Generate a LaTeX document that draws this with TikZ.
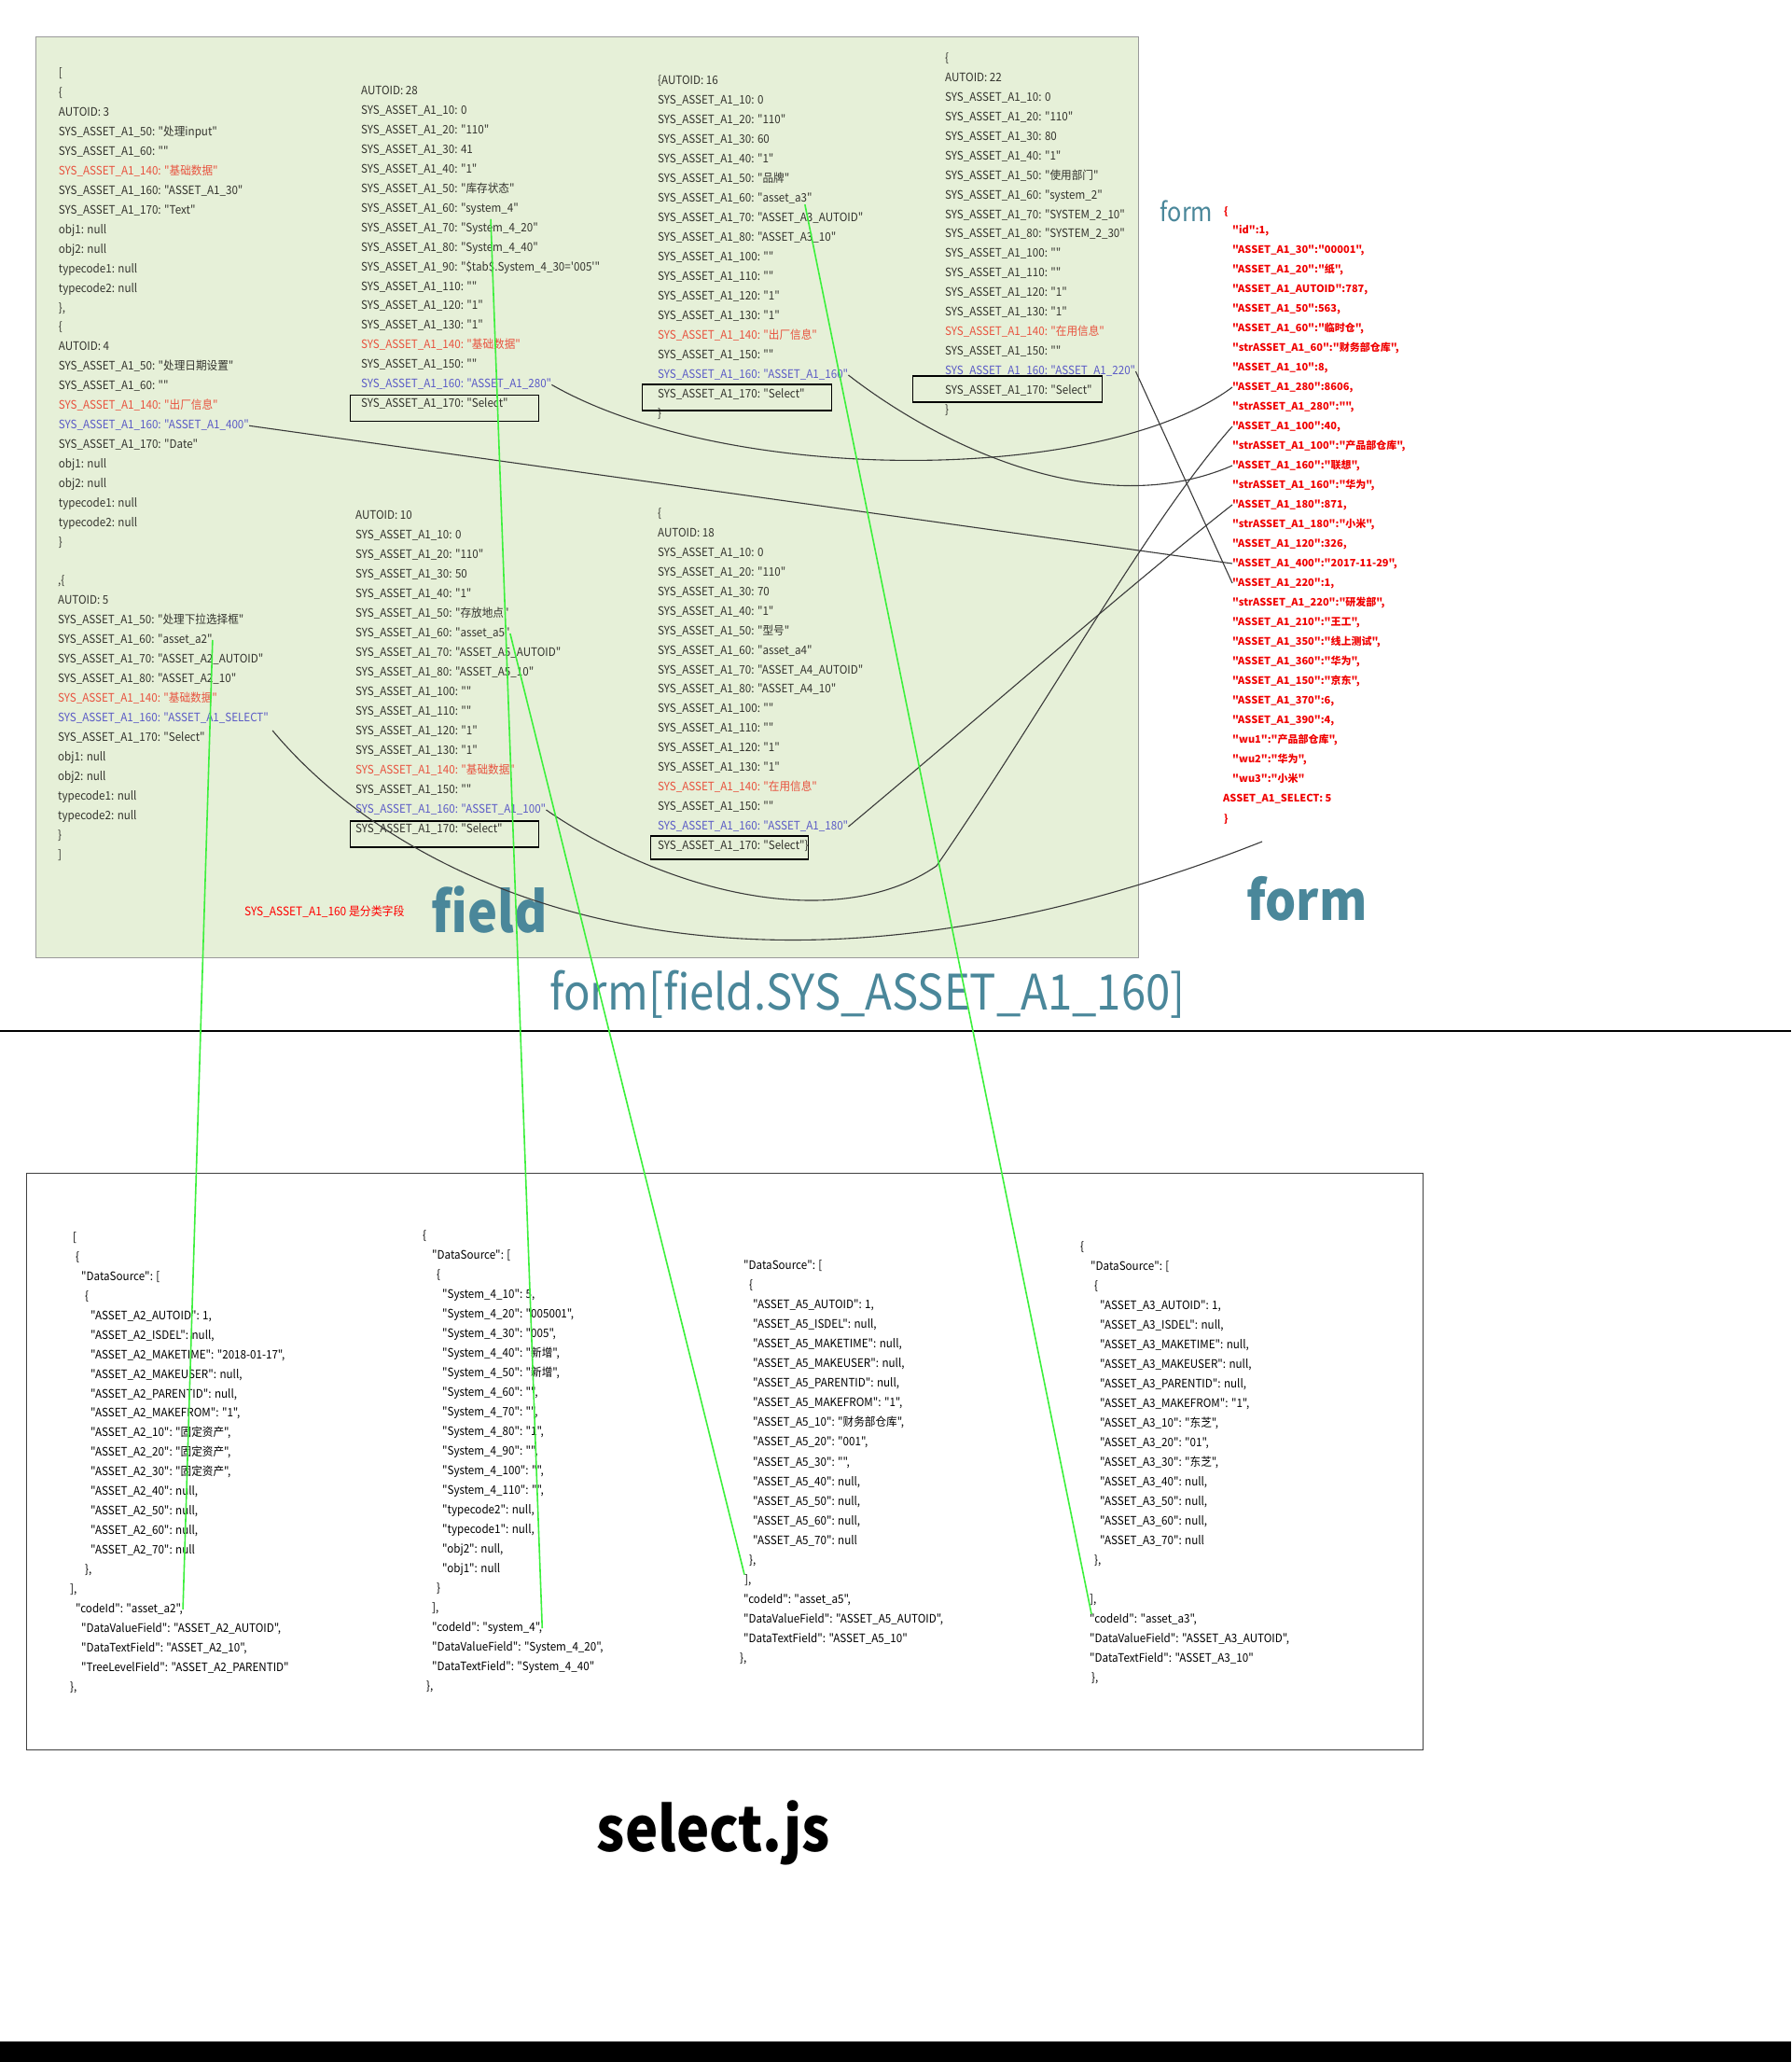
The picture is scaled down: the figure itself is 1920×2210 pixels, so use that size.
\documentclass[tikz,border=0pt]{standalone}
\usepackage{fontspec}
\setmainfont{Noto Sans CJK SC}[Ligatures=TeXOff]
\newfontfamily\colfont{Noto Sans CJK SC}[Ligatures=TeXOff,FakeStretch=0.93]
\newfontfamily\titlefont{Noto Sans CJK SC}[Ligatures=TeXOff,FakeStretch=0.9]
\usetikzlibrary{calc}
\definecolor{greenbg}{HTML}{E6F0D8}
\definecolor{gborder}{HTML}{9A9A9A}
\definecolor{coltxt}{HTML}{34342E}
\definecolor{redt}{HTML}{E8533F}
\definecolor{bluet}{HTML}{5B5BC6}
\definecolor{formred}{HTML}{F00000}
\definecolor{tealt}{HTML}{4A879A}
\definecolor{glink}{HTML}{3CF03C}
\definecolor{klink}{HTML}{3A3A3A}
\newcommand\ind[1]{\hspace*{#1pt}}
\newcommand\tblock[6]{%
  \foreach \qq [count=\ii] in {#6}{%
    \node[#2] (#1-\ii) at (#3,{#4+(\ii-1)*#5}) {\qq};
  }%
}
\begin{document}
\catcode`\_=12
\begin{tikzpicture}[x=1pt,y=-1pt,
  ctxt/.style={font=\colfont\fontsize{12.5}{15}\selectfont, text=coltxt, anchor=west, inner sep=0pt, text height=9.5pt, text depth=2.5pt},
  btxt/.style={ctxt, text=black},
  ftxt/.style={font=\fontsize{11}{14}\selectfont\bfseries, text=formred, anchor=west, inner sep=0pt, text height=8.5pt, text depth=2.5pt},
  selbox/.style={draw=black, line width=1.3pt, inner sep=0pt, anchor=west},
  title/.style={text=tealt, inner sep=0pt},
  klinkst/.style={draw=klink, line width=1.1pt},
  glinkst/.style={draw=glink, line width=1.6pt}]
\fill[white] (0,0) rectangle (1920,2210);
\useasboundingbox (0,0) rectangle (1920,2210);
% frames
\node[draw=gborder, fill=greenbg, line width=1pt, minimum width=1182pt, minimum height=987pt, anchor=north west, inner sep=0pt] (greenbox) at (38,39) {};
\node[draw=black!75, line width=1.3pt, minimum width=1497pt, minimum height=618pt, anchor=north west, inner sep=0pt] (jsbox) at (28,1257) {};
\coordinate (sepL) at (0,1105);
\coordinate (sepR) at (1920,1105);
\draw[line width=2.2pt] (sepL) -- (sepR);
\fill[black] (0,2188) rectangle (1920,2210);

% field column blocks
\tblock{b1}{ctxt}{62.7}{79}{20.96}{{[},{\{},{AUTOID: 3},{SYS_ASSET_A1_50: "处理input"},{SYS_ASSET_A1_60: ""},{\color{redt}SYS_ASSET_A1_140: "基础数据"},{SYS_ASSET_A1_160: "ASSET_A1_30"},{SYS_ASSET_A1_170: "Text"},{obj1: null},{obj2: null},{typecode1: null},{typecode2: null},{\},},{\{},{AUTOID: 4},{SYS_ASSET_A1_50: "处理日期设置"},{SYS_ASSET_A1_60: ""},{\color{redt}SYS_ASSET_A1_140: "出厂信息"},{\color{bluet}SYS_ASSET_A1_160: "ASSET_A1_400"},{SYS_ASSET_A1_170: "Date"},{obj1: null},{obj2: null},{typecode1: null},{typecode2: null},{\}}}
\tblock{b2}{ctxt}{62}{623}{21}{{,\{},{AUTOID: 5},{SYS_ASSET_A1_50: "处理下拉选择框"},{SYS_ASSET_A1_60: "asset_a2"},{SYS_ASSET_A1_70: "ASSET_A2_AUTOID"},{SYS_ASSET_A1_80: "ASSET_A2_10"},{\color{redt}SYS_ASSET_A1_140: "基础数据"},{\color{bluet}SYS_ASSET_A1_160: "ASSET_A1_SELECT"},{SYS_ASSET_A1_170: "Select"},{obj1: null},{obj2: null},{typecode1: null},{typecode2: null},{\}},{]}}
\tblock{b3}{ctxt}{387}{97.7}{20.98}{{AUTOID: 28},{SYS_ASSET_A1_10: 0},{SYS_ASSET_A1_20: "110"},{SYS_ASSET_A1_30: 41},{SYS_ASSET_A1_40: "1"},{SYS_ASSET_A1_50: "库存状态"},{SYS_ASSET_A1_60: "system_4"},{SYS_ASSET_A1_70: "System_4_20"},{SYS_ASSET_A1_80: "System_4_40"},{SYS_ASSET_A1_90: "\$tab\$.System_4_30='005'"},{SYS_ASSET_A1_110: ""},{SYS_ASSET_A1_120: "1"},{SYS_ASSET_A1_130: "1"},{\color{redt}SYS_ASSET_A1_140: "基础数据"},{SYS_ASSET_A1_150: ""},{\color{bluet}SYS_ASSET_A1_160: "ASSET_A1_280"},{SYS_ASSET_A1_170: "Select"}}
\tblock{b4}{ctxt}{381}{553}{21}{{AUTOID: 10},{SYS_ASSET_A1_10: 0},{SYS_ASSET_A1_20: "110"},{SYS_ASSET_A1_30: 50},{SYS_ASSET_A1_40: "1"},{SYS_ASSET_A1_50: "存放地点"},{SYS_ASSET_A1_60: "asset_a5"},{SYS_ASSET_A1_70: "ASSET_A5_AUTOID"},{SYS_ASSET_A1_80: "ASSET_A5_10"},{SYS_ASSET_A1_100: ""},{SYS_ASSET_A1_110: ""},{SYS_ASSET_A1_120: "1"},{SYS_ASSET_A1_130: "1"},{\color{redt}SYS_ASSET_A1_140: "基础数据"},{SYS_ASSET_A1_150: ""},{\color{bluet}SYS_ASSET_A1_160: "ASSET_A1_100"},{SYS_ASSET_A1_170: "Select"}}
\tblock{b5}{ctxt}{705}{87}{21}{{\{AUTOID: 16},{SYS_ASSET_A1_10: 0},{SYS_ASSET_A1_20: "110"},{SYS_ASSET_A1_30: 60},{SYS_ASSET_A1_40: "1"},{SYS_ASSET_A1_50: "品牌"},{SYS_ASSET_A1_60: "asset_a3"},{SYS_ASSET_A1_70: "ASSET_A3_AUTOID"},{SYS_ASSET_A1_80: "ASSET_A3_10"},{SYS_ASSET_A1_100: ""},{SYS_ASSET_A1_110: ""},{SYS_ASSET_A1_120: "1"},{SYS_ASSET_A1_130: "1"},{\color{redt}SYS_ASSET_A1_140: "出厂信息"},{SYS_ASSET_A1_150: ""},{\color{bluet}SYS_ASSET_A1_160: "ASSET_A1_160"},{SYS_ASSET_A1_170: "Select"},{\}}}
\tblock{b6}{ctxt}{705}{551}{20.94}{{\{},{AUTOID: 18},{SYS_ASSET_A1_10: 0},{SYS_ASSET_A1_20: "110"},{SYS_ASSET_A1_30: 70},{SYS_ASSET_A1_40: "1"},{SYS_ASSET_A1_50: "型号"},{SYS_ASSET_A1_60: "asset_a4"},{SYS_ASSET_A1_70: "ASSET_A4_AUTOID"},{SYS_ASSET_A1_80: "ASSET_A4_10"},{SYS_ASSET_A1_100: ""},{SYS_ASSET_A1_110: ""},{SYS_ASSET_A1_120: "1"},{SYS_ASSET_A1_130: "1"},{\color{redt}SYS_ASSET_A1_140: "在用信息"},{SYS_ASSET_A1_150: ""},{\color{bluet}SYS_ASSET_A1_160: "ASSET_A1_180"},{SYS_ASSET_A1_170: "Select"\}}}
\tblock{b7}{ctxt}{1013}{63}{20.94}{{\{},{AUTOID: 22},{SYS_ASSET_A1_10: 0},{SYS_ASSET_A1_20: "110"},{SYS_ASSET_A1_30: 80},{SYS_ASSET_A1_40: "1"},{SYS_ASSET_A1_50: "使用部门"},{SYS_ASSET_A1_60: "system_2"},{SYS_ASSET_A1_70: "SYSTEM_2_10"},{SYS_ASSET_A1_80: "SYSTEM_2_30"},{SYS_ASSET_A1_100: ""},{SYS_ASSET_A1_110: ""},{SYS_ASSET_A1_120: "1"},{SYS_ASSET_A1_130: "1"},{\color{redt}SYS_ASSET_A1_140: "在用信息"},{SYS_ASSET_A1_150: ""},{\color{bluet}SYS_ASSET_A1_160: "ASSET_A1_220"},{SYS_ASSET_A1_170: "Select"},{\}}}

% Select boxes
\node[selbox, minimum width=202pt, minimum height=28pt] (s3) at ([xshift=-12pt,yshift=-4pt]b3-17.west) {};
\node[selbox, minimum width=202pt, minimum height=28pt] (s4) at ([xshift=-6pt,yshift=-5pt]b4-17.west) {};
\node[selbox, minimum width=203pt, minimum height=28pt] (s5) at ([xshift=-17pt,yshift=-3pt]b5-17.west) {};
\node[selbox, minimum width=169pt, minimum height=25pt] (s6) at ([xshift=-8pt,yshift=-1.5pt]b6-18.west) {};
\node[selbox, minimum width=203pt, minimum height=28pt] (s7) at ([xshift=-35pt,yshift=2pt]b7-18.west) {};

% form
\node[title, font=\titlefont\fontsize{28}{32}\selectfont] (formsmall) at (1272,226) {form};
\node[ftxt] (fopen) at (1312,227) {\{};
\tblock{f}{ftxt}{1321}{247}{21}{{"id":1,},{"ASSET_A1_30":"00001",},{"ASSET_A1_20":"纸",},{"ASSET_A1_AUTOID":787,},{"ASSET_A1_50":563,},{"ASSET_A1_60":"临时仓",},{"strASSET_A1_60":"财务部仓库",},{"ASSET_A1_10":8,},{"ASSET_A1_280":8606,},{"strASSET_A1_280":"",},{"ASSET_A1_100":40,},{"strASSET_A1_100":"产品部仓库",},{"ASSET_A1_160":"联想",},{"strASSET_A1_160":"华为",},{"ASSET_A1_180":871,},{"strASSET_A1_180":"小米",},{"ASSET_A1_120":326,},{"ASSET_A1_400":"2017-11-29",},{"ASSET_A1_220":1,},{"strASSET_A1_220":"研发部",},{"ASSET_A1_210":"王工",},{"ASSET_A1_350":"线上测试",},{"ASSET_A1_360":"华为",},{"ASSET_A1_150":"京东",},{"ASSET_A1_370":6,},{"ASSET_A1_390":4,},{"wu1":"产品部仓库",},{"wu2":"华为",},{"wu3":"小米"}}
\node[ftxt] (fsel) at (1311,856) {ASSET_A1_SELECT: 5};
\node[ftxt] (fclose) at (1312,878) {\}};

% titles
\node[title, font=\titlefont\fontsize{60}{66}\selectfont\bfseries] (tfield) at (525,975) {field};
\node[title, font=\titlefont\fontsize{58}{64}\selectfont\bfseries] (tform) at (1401,963) {form};
\node[title, font=\titlefont\fontsize{52.5}{58}\selectfont] (tformfield) at (930,1066) {form[field.SYS_ASSET_A1_160]};
\node[inner sep=0pt, font=\titlefont\fontsize{66}{72}\selectfont\bfseries] (tselect) at (765,1964) {select.js};
\node[anchor=west, inner sep=0pt, text=red, font=\colfont\fontsize{12.8}{15}\selectfont] (note) at (262,977) {SYS_ASSET_A1_160 是分类字段};

% select.js data blocks
\tblock{j1}{btxt}{75}{1327}{20.94}{{\ind{3}[},{\ind{6}\{},{\ind{12}"DataSource": [},{\ind{16}\{},{\ind{22}"ASSET_A2_AUTOID": 1,},{\ind{22}"ASSET_A2_ISDEL": null,},{\ind{22}"ASSET_A2_MAKETIME": "2018-01-17",},{\ind{22}"ASSET_A2_MAKEUSER": null,},{\ind{22}"ASSET_A2_PARENTID": null,},{\ind{22}"ASSET_A2_MAKEFROM": "1",},{\ind{22}"ASSET_A2_10": "固定资产",},{\ind{22}"ASSET_A2_20": "固定资产",},{\ind{22}"ASSET_A2_30": "固定资产",},{\ind{22}"ASSET_A2_40": null,},{\ind{22}"ASSET_A2_50": null,},{\ind{22}"ASSET_A2_60": null,},{\ind{22}"ASSET_A2_70": null},{\ind{16}\},},{],},{\ind{6}"codeId": "asset_a2",},{\ind{12}"DataValueField": "ASSET_A2_AUTOID",},{\ind{12}"DataTextField": "ASSET_A2_10",},{\ind{12}"TreeLevelField": "ASSET_A2_PARENTID"},{\},}}
\tblock{j2}{btxt}{453}{1325}{21}{{\{},{\ind{10}"DataSource": [},{\ind{15}\{},{\ind{21}"System_4_10": 5,},{\ind{21}"System_4_20": "005001",},{\ind{21}"System_4_30": "005",},{\ind{21}"System_4_40": "新增",},{\ind{21}"System_4_50": "新增",},{\ind{21}"System_4_60": "",},{\ind{21}"System_4_70": "",},{\ind{21}"System_4_80": "1",},{\ind{21}"System_4_90": "",},{\ind{21}"System_4_100": "",},{\ind{21}"System_4_110": "",},{\ind{21}"typecode2": null,},{\ind{21}"typecode1": null,},{\ind{21}"obj2": null,},{\ind{21}"obj1": null},{\ind{15}\}},{\ind{10}],},{\ind{10}"codeId": "system_4",},{\ind{10}"DataValueField": "System_4_20",},{\ind{10}"DataTextField": "System_4_40"},{\ind{4}\},}}
\tblock{j3}{btxt}{793}{1357}{21.05}{{\ind{4}"DataSource": [},{\ind{10}\{},{\ind{14}"ASSET_A5_AUTOID": 1,},{\ind{14}"ASSET_A5_ISDEL": null,},{\ind{14}"ASSET_A5_MAKETIME": null,},{\ind{14}"ASSET_A5_MAKEUSER": null,},{\ind{14}"ASSET_A5_PARENTID": null,},{\ind{14}"ASSET_A5_MAKEFROM": "1",},{\ind{14}"ASSET_A5_10": "财务部仓库",},{\ind{14}"ASSET_A5_20": "001",},{\ind{14}"ASSET_A5_30": "",},{\ind{14}"ASSET_A5_40": null,},{\ind{14}"ASSET_A5_50": null,},{\ind{14}"ASSET_A5_60": null,},{\ind{14}"ASSET_A5_70": null},{\ind{10}\},},{\ind{5}],},{\ind{4}"codeId": "asset_a5",},{\ind{4}"DataValueField": "ASSET_A5_AUTOID",},{\ind{4}"DataTextField": "ASSET_A5_10"},{\},}}
\tblock{j4}{btxt}{1158}{1337}{21}{{\{},{\ind{11}"DataSource": [},{\ind{15}\{},{\ind{21}"ASSET_A3_AUTOID": 1,},{\ind{21}"ASSET_A3_ISDEL": null,},{\ind{21}"ASSET_A3_MAKETIME": null,},{\ind{21}"ASSET_A3_MAKEUSER": null,},{\ind{21}"ASSET_A3_PARENTID": null,},{\ind{21}"ASSET_A3_MAKEFROM": "1",},{\ind{21}"ASSET_A3_10": "东芝",},{\ind{21}"ASSET_A3_20": "01",},{\ind{21}"ASSET_A3_30": "东芝",},{\ind{21}"ASSET_A3_40": null,},{\ind{21}"ASSET_A3_50": null,},{\ind{21}"ASSET_A3_60": null,},{\ind{21}"ASSET_A3_70": null},{\ind{15}\},},{},{\ind{10}],},{\ind{10}"codeId": "asset_a3",},{\ind{10}"DataValueField": "ASSET_A3_AUTOID",},{\ind{10}"DataTextField": "ASSET_A3_10"},{\ind{12}\},}}

% black connectors (field -> form)
\coordinate (k6m) at (1004,928);
\coordinate (kend) at (1353,902);
\draw[klinkst] (b1-19.east) -- (f-18.west);
\draw[klinkst] (b3-16.east) .. controls (780,520) and (1180,520) .. (f-9.west);
\draw[klinkst] (b5-16.east) .. controls (1010,480) and (1180,560) .. (f-13.west);
\draw[klinkst] (b7-17.east) -- (f-19.west);
\draw[klinkst] (b6-17.east) .. controls (1060,760) and (1220,620) .. (f-15.west);
\draw[klinkst] (b4-16.east) .. controls (720,960) and (900,1000) .. (k6m) .. controls (1120,760) and (1230,560) .. (f-11.west);
\draw[klinkst] ([shift={(4,13)}]b2-8.east) .. controls (440,960) and (800,1120) .. (kend);

% green connectors (field -> select.js)
\draw[glinkst] (b2-4.east) -- (j1-20.east);
\draw[glinkst] ([xshift=-30pt,yshift=-5pt]b3-7.south east) -- (j2-21.east);
\draw[glinkst] (b4-7.east) -- ([xshift=5pt]j3-17.north west);
\draw[glinkst] ([xshift=-8pt]b5-7.south east) -- ([xshift=12pt]j4-20.north west);
\end{tikzpicture}
\end{document}
